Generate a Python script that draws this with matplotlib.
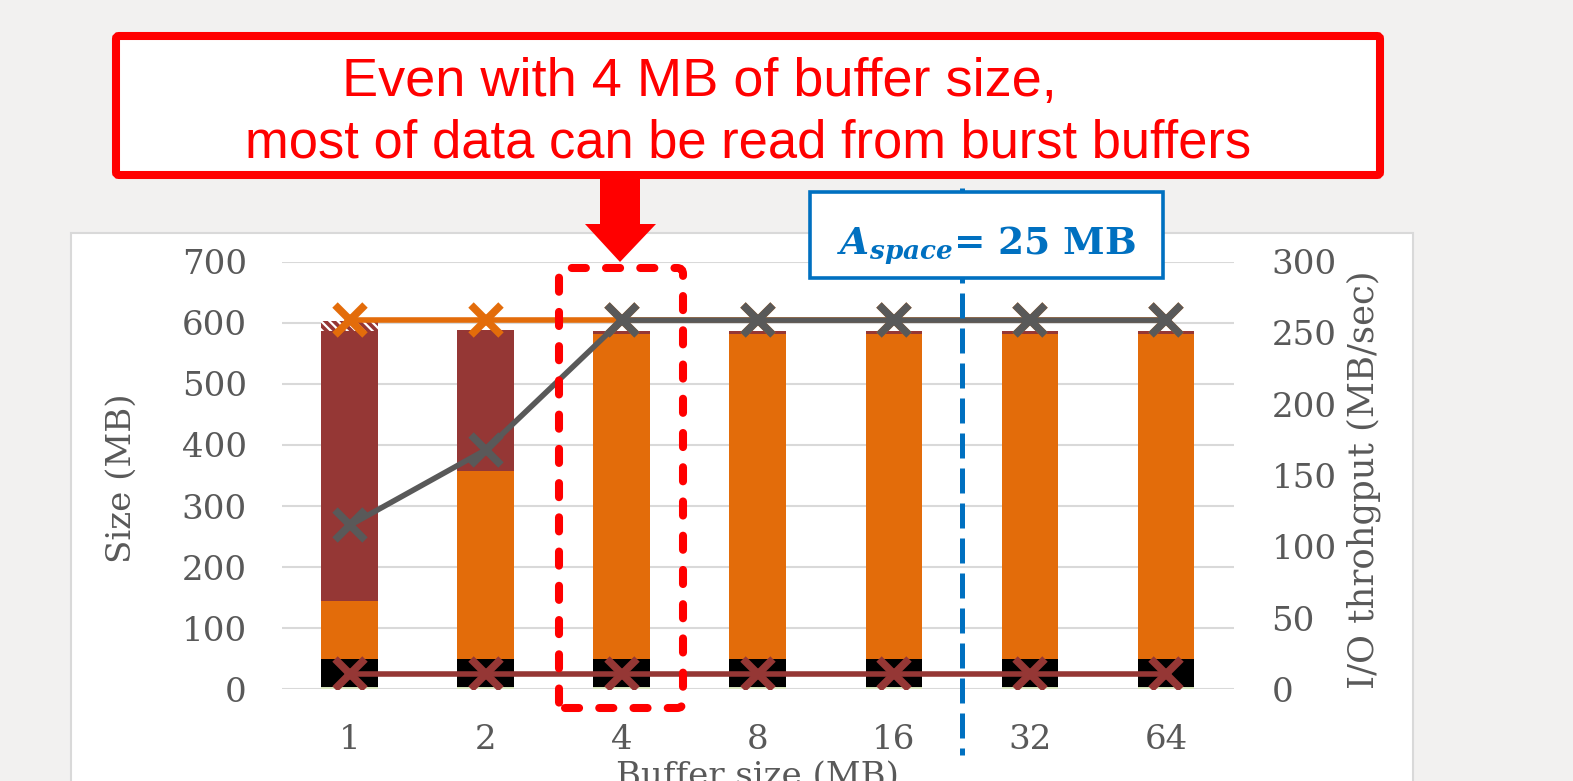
import numpy as np
import matplotlib
matplotlib.use("Agg")
import matplotlib.pyplot as plt
from matplotlib.patches import FancyBboxPatch, Rectangle, Polygon
from matplotlib.lines import Line2D

W, H = 1573, 781

# data
buffer_sizes = ["1", "2", "4", "8", "16", "32", "64"]
size_misc = [3, 3, 3, 3, 3, 3, 3]            # thin green layer at the bottom
size_black = [47, 47, 47, 47, 47, 47, 47]
size_buffer = [95, 308, 531, 531, 531, 531, 531]   # orange, read from burst buffers
size_pfs = [442, 230, 6, 6, 6, 6, 6]         # dark red
size_hatched = [16, 0, 0, 0, 0, 0, 0]

tput_total = [115, 168, 259, 259, 259, 259, 259]   # gray line
tput_buffer = [259, 259, 259, 259, 259, 259, 259]  # orange line
tput_pfs = [11, 11, 11, 11, 11, 11, 11]            # dark red line

ORANGE = "#e36c0a"
DRED = "#953735"
GRAY = "#595959"
GRID = "#d9d9d9"
BLUE = "#0070c0"

plt.rcParams["font.family"] = ["DejaVu Serif"]
plt.rcParams["mathtext.fontset"] = "dejavuserif"
plt.rcParams["hatch.linewidth"] = 1.6

fig = plt.figure(figsize=(W / 100, H / 100), dpi=100)
fig.patch.set_facecolor("#f2f1f0")


def inch(x, y):
    return (x / 100, (H - y) / 100)


# white chart area
fig.add_artist(Rectangle(inch(71, 800), (1413 - 71) / 100, (800 - 233) / 100,
                         transform=fig.dpi_scale_trans, facecolor="white",
                         edgecolor=GRID, lw=1.5, zorder=-1))

ax = fig.add_axes([281.7 / W, 1 - 689.3 / H, (1234 - 281.7) / W, (689.3 - 261.7) / H])
ax.set_facecolor("none")
x = np.arange(len(buffer_sizes))
bw = 0.417

bottom = np.zeros(len(x))
ax.bar(x, size_misc, bw, bottom=bottom, color="#d7e4bd", zorder=2)
bottom += size_misc
ax.bar(x, size_black, bw, bottom=bottom, color="black", zorder=2)
bottom += size_black
ax.bar(x, size_buffer, bw, bottom=bottom, color=ORANGE, zorder=2)
bottom += size_buffer
ax.bar(x, size_pfs, bw, bottom=bottom, color=DRED, zorder=2)
bottom += size_pfs
ax.bar(x, size_hatched, bw, bottom=bottom, facecolor=DRED, edgecolor="white",
       hatch="\\\\\\\\", lw=0, zorder=2)

ax.set_xlim(-0.5, len(x) - 0.5)
ax.set_ylim(0, 700)
ax.set_yticks(range(0, 701, 100))
ax.yaxis.grid(True, color=GRID, lw=1.5, zorder=0)
ax.set_axisbelow(True)
for s in ax.spines.values():
    s.set_visible(False)
ax.set_xticks(x)
ax.set_xticklabels(buffer_sizes)
ax.tick_params(axis="both", length=0, labelsize=24.5, labelcolor=GRAY)
ax.tick_params(axis="x", pad=25)
ax.tick_params(axis="y", pad=25)
ax.set_ylabel("Size (MB)", fontsize=24.5, color=GRAY)
ax.yaxis.set_label_coords(-0.151, 0.494)
ax.set_xlabel("Buffer size (MB)", fontsize=24.5, color=GRAY, va="top")
ax.xaxis.set_label_coords(0.5, -0.168)

ax2 = ax.twinx()
ax2.set_ylim(0, 300)
ax2.set_yticks(range(0, 301, 50))
for s in ax2.spines.values():
    s.set_visible(False)
ax2.tick_params(axis="y", length=0, labelsize=24.5, labelcolor=GRAY, pad=27)
mk = dict(marker="x", ms=22, mew=5.5)
ax2.plot(x, tput_buffer, color=ORANGE, lw=4, **mk)
ax2.plot(x, tput_pfs, color=DRED, lw=4, **mk)
ax2.plot(x, tput_total, color=GRAY, lw=4, **mk)
ax2.set_ylabel("I/O throhgput (MB/sec)", fontsize=25.5, color=GRAY)
ax2.yaxis.set_label_coords(1.118, 0.49)

# blue dashed threshold line and its label
fig.add_artist(Line2D([962 / 100, 962 / 100], [(H - 188) / 100, (H - 755) / 100],
                      transform=fig.dpi_scale_trans, color=BLUE, lw=3.6,
                      dashes=(5, 2), zorder=4))
fig.add_artist(Rectangle(inch(810, 278), (1163 - 810) / 100, (278 - 192) / 100,
                         transform=fig.dpi_scale_trans, facecolor="white",
                         edgecolor=BLUE, lw=2.6, zorder=5))
fig.text(986 / W, 1 - 254 / H, r"$\mathbfit{A}_{\mathbfit{space}}$= 25 MB",
         ha="center", va="baseline", fontsize=27, color=BLUE, fontweight="bold",
         zorder=6)

# red callout box
fig.add_artist(FancyBboxPatch(inch(116, 175), (1380 - 116) / 100, (175 - 36) / 100,
                              boxstyle="round,pad=0,rounding_size=0.03",
                              transform=fig.dpi_scale_trans, facecolor="white",
                              edgecolor="#ff0000", lw=5.8, zorder=5))
red_lines = ["Even with 4 MB of buffer size,",
             "most of data can be read from burst buffers"]
fig.text(699 / W, 1 - 96 / H, red_lines[0], ha="center", va="baseline",
         fontsize=39, color="#ff0000", family="Liberation Sans", zorder=6)
fig.text(748 / W, 1 - 157 / H, red_lines[1], ha="center", va="baseline",
         fontsize=37.8, color="#ff0000", family="Liberation Sans", zorder=6)

arrow = [(600, 179), (640, 179), (640, 224), (656, 224), (620, 262),
         (585, 224), (600, 224)]
fig.add_artist(Polygon([inch(a, b) for a, b in arrow], closed=True,
                       transform=fig.dpi_scale_trans, facecolor="#ff0000",
                       edgecolor="none", zorder=5))

box = FancyBboxPatch(inch(559, 708), (683 - 559) / 100, (708 - 268) / 100,
                     boxstyle="round,pad=0,rounding_size=0.06",
                     transform=fig.dpi_scale_trans, facecolor="none",
                     edgecolor="#ff0000", lw=5.8, linestyle=(0, (1.75, 2.5)),
                     zorder=5)
box.set_capstyle("round")
fig.add_artist(box)

fig.savefig("out.png", dpi=100, facecolor=fig.get_facecolor())
